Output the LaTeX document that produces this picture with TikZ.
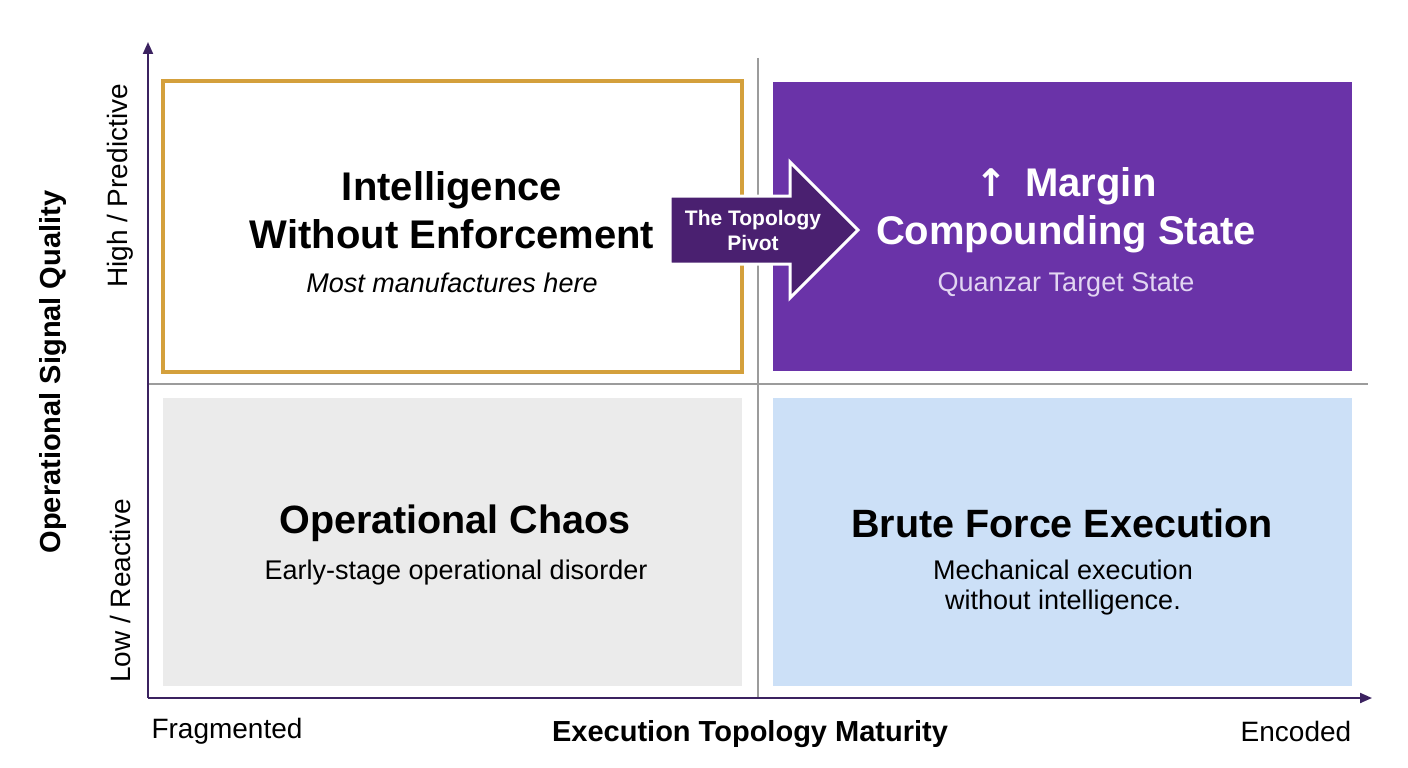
\documentclass[tikz,border=0pt]{standalone}
\usepackage{fontspec}
\setmainfont{Liberation Sans}
\newfontfamily\symfont{DejaVu Sans}
\usetikzlibrary{arrows.meta}
\definecolor{axiscol}{HTML}{3B2260}
\definecolor{gold}{HTML}{D4A03C}
\definecolor{purp}{HTML}{6A33A8}
\definecolor{darkpurp}{HTML}{4A2070}
\definecolor{lgray}{HTML}{EBEBEB}
\definecolor{lblue}{HTML}{CCE0F7}
\definecolor{divgray}{HTML}{9C9C9C}
\definecolor{lav}{HTML}{E2D6F2}
\tikzset{
  axisline/.style={draw=axiscol, line width=2pt, -{Triangle[length=12pt,width=10pt]}},
  divider/.style={draw=divgray, line width=1.2pt},
  title/.style={font=\bfseries\fontsize{40}{48}\selectfont, align=center, inner sep=0pt},
  sub/.style={font=\fontsize{27}{30}\selectfont, align=center, inner sep=0pt},
  axislab/.style={font=\fontsize{28}{32}\selectfont, inner sep=0pt},
  axistitle/.style={font=\bfseries\fontsize{29}{34}\selectfont, inner sep=0pt},
}
\begin{document}
\begin{tikzpicture}[x=1pt,y=-1pt]
\useasboundingbox[fill=white] (0,0) rectangle (1408,768);
% quadrants
\fill[lgray] (163,398) rectangle (742,686);
\fill[lblue] (773,398) rectangle (1352,686);
\fill[purp] (773,82) rectangle (1352,371);
\draw[gold, line width=3.5pt, fill=white] (163,81) rectangle (742,372);
% dividers
\coordinate (vtop) at (758,58);
\coordinate (vbot) at (758,698);
\coordinate (hl) at (148,384);
\coordinate (hr) at (1368,384);
\draw[divider] (vtop) -- (vbot);
\draw[divider] (hl) -- (hr);
% axes
\coordinate (origin) at (148,698);
\coordinate (ytip) at (148,42);
\coordinate (xtip) at (1372,698);
\draw[axisline] (origin) -- (ytip);
\draw[axisline] (origin) -- (xtip);
% texts
\node[title] (t1) at (452,210) {Intelligence\\Without Enforcement};
\node[sub, font=\itshape\fontsize{27}{30}\selectfont] (s1) at (452,283) {Most manufactures here};
\node[title, text=white] (t2) at (1066,210) {{\symfont\fontsize{38}{48}\selectfont ↑}\hspace{18pt}Margin\\Compounding State};
\node[sub, text=lav] (s2) at (1066,285) {Quanzar Target State};
\node[title, font=\bfseries\fontsize{39.5}{48}\selectfont] (t3) at (455,523) {Operational Chaos};
\node[sub] (s3) at (456,573) {Early-stage operational disorder};
\node[title, font=\bfseries\fontsize{39.5}{48}\selectfont] (t4) at (1062,523) {Brute Force Execution};
\node[sub] (s4) at (1063,588) {Mechanical execution\\without intelligence.};
% arrow
\draw[fill=darkpurp, draw=white, line width=3pt, line join=miter]
  (670,196) -- (790,196) -- (790,162) -- (858,230) -- (790,298) -- (790,264) -- (670,264) -- cycle;
\node[font=\bfseries\fontsize{21}{25}\selectfont, text=white, align=center, inner sep=0pt] (piv) at (753,230) {The Topology\\Pivot};
% axis labels
\node[axistitle] (xl) at (750,734) {Execution Topology Maturity};
\node[axislab] (frag) at (227,731) {Fragmented};
\node[axislab] (enc) at (1296,731) {Encoded};
\node[axistitle, rotate=90] (yl) at (53,372) {Operational Signal Quality};
\node[axislab, rotate=90] (hi) at (120,186) {High / Predictive};
\node[axislab, rotate=90] (lo) at (120,591) {Low / Reactive};
\end{tikzpicture}
\end{document}
